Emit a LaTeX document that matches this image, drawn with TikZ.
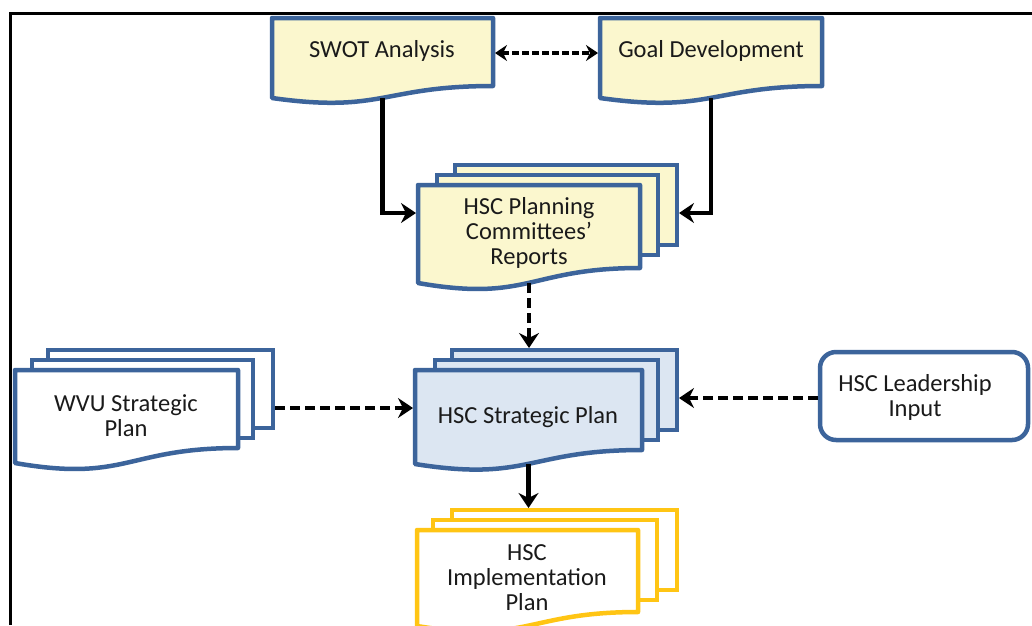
\documentclass[tikz,border=0pt]{standalone}
\usepackage{fontspec}
\setmainfont{Carlito}
\usetikzlibrary{arrows.meta,calc}
\definecolor{docblue}{HTML}{3C649B}
\definecolor{docyellow}{HTML}{FBF7CE}
\definecolor{docpale}{HTML}{DCE6F2}
\definecolor{docgold}{HTML}{FFC514}
\definecolor{txt}{HTML}{1A1A1A}
% #1 frame node, #2 dip of the wavy bottom, #3 style
\newcommand\docshape[3]{\path[#3] (#1.north west) -- (#1.north east) -- (#1.south east)
  .. controls (#1.south) and ($(#1.south)+(0,2.3*#2)$) .. ($(#1.south west)+(0,#2)$) -- cycle;}
\tikzset{
  frame/.style={rectangle, inner sep=0pt, outer sep=0pt, anchor=north west},
  bluedoc/.style={draw=docblue, line width=4.5pt, line join=round},
  golddoc/.style={draw=docgold, line width=4.5pt, line join=round, fill=white},
  label/.style={font=\fontsize{24.5}{25}\selectfont, text=txt, align=center, inner sep=0pt},
  arr/.style={draw=black, line width=4.5pt, -{Stealth[length=15pt,width=20pt,inset=5pt]}},
  darr/.style={arr, dash pattern=on 10pt off 5pt},
  dbl/.style={draw=black, line width=3.5pt, dash pattern=on 7pt off 3pt,
    {Stealth[length=12pt,width=16pt,inset=4pt]}-{Stealth[length=12pt,width=16pt,inset=4pt]}}
}
\begin{document}
\begin{tikzpicture}[x=1pt,y=-1pt]
\useasboundingbox (0,0) rectangle (1032,625);
\fill[white] (0,0) rectangle (1032,625);
% frame lines
\draw[line width=3pt] (10.5,625) -- (10.5,13.5) -- (1032,13.5);

% SWOT and Goal
\node[frame, minimum width=221pt, minimum height=68pt] (swot) at (272,18) {};
\docshape{swot}{12}{bluedoc, fill=docyellow}
\node[label] (swottext) at (382,51) {SWOT Analysis};
\node[frame, minimum width=222pt, minimum height=68pt] (goal) at (600,18) {};
\docshape{goal}{12}{bluedoc, fill=docyellow}
\node[label] (goaltext) at (711,51) {Goal Development};

% Planning committees' reports
\node[frame, minimum width=222pt, minimum height=80pt, draw=docblue, fill=docyellow, line width=4.5pt] (plan3) at (455,165) {};
\node[frame, minimum width=221pt, minimum height=80pt, draw=docblue, fill=docyellow, line width=4.5pt] (plan2) at (437,175) {};
\node[frame, minimum width=222pt, minimum height=83pt] (plan) at (418,185) {};
\docshape{plan}{15}{bluedoc, fill=docyellow}
\node[label] (plantext) at (529,233) {HSC Planning\\Committees’\\Reports};

% HSC Strategic Plan
\node[frame, minimum width=225pt, minimum height=80pt, draw=docblue, fill=docpale, line width=4.5pt] (strat3) at (452,350) {};
\node[frame, minimum width=223pt, minimum height=80pt, draw=docblue, fill=docpale, line width=4.5pt] (strat2) at (435,360) {};
\node[frame, minimum width=227pt, minimum height=80pt] (strat) at (415,370) {};
\docshape{strat}{14}{bluedoc, fill=docpale}
\node[label] (strattext) at (528,417) {HSC Strategic Plan};

% WVU Strategic Plan
\node[frame, minimum width=225pt, minimum height=78pt, draw=docblue, fill=white, line width=4.5pt] (wvu3) at (48,350) {};
\node[frame, minimum width=221pt, minimum height=78pt, draw=docblue, fill=white, line width=4.5pt] (wvu2) at (32,360) {};
\node[frame, minimum width=223pt, minimum height=78pt] (wvu) at (15,370) {};
\docshape{wvu}{15}{bluedoc, fill=white}
\node[label] (wvutext) at (126,416) {WVU Strategic\\Plan};

% HSC Leadership Input
\node[frame, minimum width=208pt, minimum height=88pt, draw=docblue, fill=white, line width=4.5pt, rounded corners=16pt] (lead) at (820,352) {};
\node[label] (leadtext) at (915,397) {HSC Leadership\\Input};

% HSC Implementation Plan
\node[frame, minimum width=225pt, minimum height=80pt, draw=docgold, fill=white, line width=4.5pt] (impl3) at (452,510) {};
\node[frame, minimum width=224pt, minimum height=80pt, draw=docgold, fill=white, line width=4.5pt] (impl2) at (433,520) {};
\node[frame, minimum width=221pt, minimum height=82pt] (impl) at (417,530) {};
\docshape{impl}{14}{golddoc}
\node[label] (impltext) at (527,578) {HSC\\Implementation\\Plan};

% connector points
\coordinate (swotb) at ($(swot.south)+(0,12)$);
\coordinate (goalb) at ($(goal.south)+(0,12)$);
\coordinate (planL) at (416,213);
\coordinate (planR) at (679,213);
\coordinate (planb) at ($(plan.south)+(0,15)$);
\coordinate (stratb) at ($(strat.south)+(0,14)$);
\coordinate (stratL) at (413,408);
\coordinate (stratR) at (679,398);
\coordinate (wvuR) at (275,408);

% connectors
\draw[dbl] ($(swot.east |- 0,53)+(2,0)$) -- ($(goal.west |- 0,53)+(-2,0)$);
\draw[arr] (swotb) |- (planL);
\draw[arr] (goalb) |- (planR);
\draw[darr] (planb) -- ($(strat3.north -| planb)+(0,-2)$);
\draw[darr] (wvuR) -- (stratL);
\draw[darr] ($(lead.west |- stratR)+(-2,0)$) -- (stratR);
\draw[arr] (stratb) -- ($(impl3.north -| stratb)+(0,-2)$);
\end{tikzpicture}
\end{document}
